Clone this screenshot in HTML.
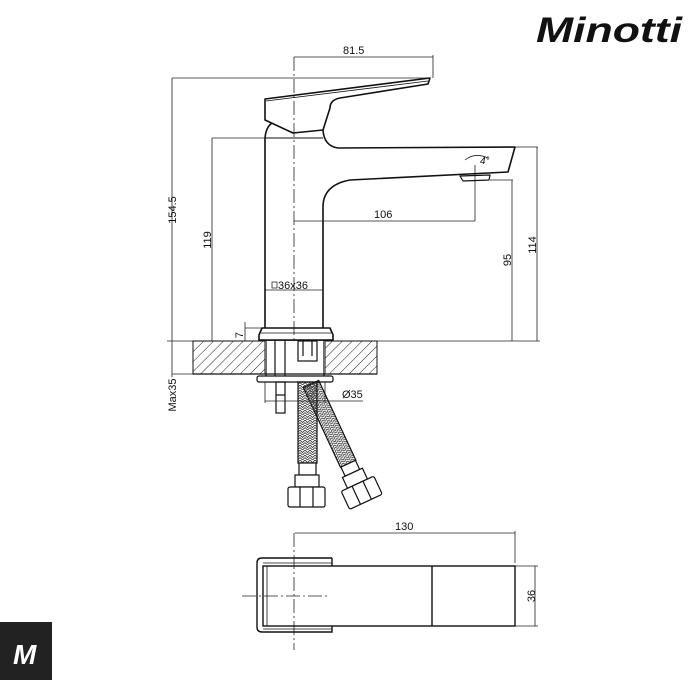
<!DOCTYPE html>
<html><head><meta charset="utf-8"><style>
html,body{margin:0;padding:0;background:#fff;}
svg{display:block;}
text{font-family:"Liberation Sans",sans-serif;fill:#111;}
</style></head><body>
<svg width="700" height="700" viewBox="0 0 700 700" xmlns="http://www.w3.org/2000/svg">
<defs>
<pattern id="h" width="7" height="7" patternUnits="userSpaceOnUse" patternTransform="rotate(45)">
<line x1="0" y1="0" x2="0" y2="7" stroke="#222" stroke-width="1"/>
</pattern>
<pattern id="br" width="5" height="5" patternUnits="userSpaceOnUse">
<path d="M0 0 L2.5 2.5 L5 0 M0 2.5 L2.5 5 L5 2.5" stroke="#333" stroke-width="0.8" fill="none"/>
</pattern>
</defs>

<!-- logo -->
<text x="536" y="42" font-size="35" font-style="italic" font-weight="bold" textLength="146" lengthAdjust="spacingAndGlyphs">Minotti</text>
<rect x="0" y="622" width="52" height="58" fill="#222"/>
<text x="13" y="664" font-size="28" font-style="italic" font-weight="bold" style="fill:#fff">M</text>

<g fill="none" stroke="#222" stroke-width="0.8">
<line x1="294" y1="57" x2="294" y2="365" stroke-dasharray="14,3,2,3"/>
<line x1="294" y1="57" x2="433" y2="57"/>
<line x1="433" y1="55" x2="433" y2="78"/>
<line x1="172" y1="78" x2="430" y2="78"/>
<line x1="172" y1="78" x2="172" y2="341"/>
<line x1="212" y1="138" x2="265" y2="138"/>
<line x1="212" y1="138" x2="212" y2="341"/>
<line x1="294" y1="221" x2="475" y2="221"/>
<line x1="475" y1="165" x2="475" y2="221"/>
<line x1="490" y1="180" x2="513" y2="180"/>
<line x1="512" y1="180" x2="512" y2="341"/>
<line x1="515" y1="147" x2="538" y2="147"/>
<line x1="537" y1="147" x2="537" y2="341"/>
<line x1="265" y1="290" x2="323" y2="290"/>
<line x1="245" y1="328" x2="262" y2="328"/>
<line x1="245" y1="322" x2="245" y2="341"/>
<line x1="167" y1="341" x2="540" y2="341"/>
<line x1="172" y1="341" x2="172" y2="377"/>
<line x1="172" y1="374" x2="193" y2="374"/>
<path d="M465 160 Q475 152 488 158"/>
</g>

<g fill="none" stroke="#111" stroke-width="1.6" stroke-linejoin="round">
<path d="M265 99 L430 78 L428 84 L340 98 Q330 100 330 108 L323 130 L293 133 L265 120 Z"/>
<path d="M266 101 L428 81" stroke-width="0.8"/>
<path d="M265 138 L265 328 M265 138 Q266 127 272 123"/>
<line x1="265" y1="138" x2="323" y2="138" stroke-width="1"/>
<path d="M323 130 Q324 146 338 148 L515 147 L508 172 L350 180 Q323 185 323 207 L323 328"/>
<path d="M460 176 L490 175 L489 180 L463 181 Z" stroke-width="1.2"/>
<path d="M262 328 L330 328 L333 335 L333 340 L259 340 L259 335 Z"/>
<line x1="261" y1="333" x2="331" y2="333" stroke-width="0.8"/>
</g>

<rect x="193" y="341" width="72" height="33" fill="url(#h)" stroke="#111" stroke-width="1"/>
<rect x="325" y="341" width="52" height="33" fill="url(#h)" stroke="#111" stroke-width="1"/>
<rect x="265" y="341" width="60" height="33" fill="#fff"/>
<g fill="none" stroke="#111" stroke-width="1.2">
<line x1="193" y1="374" x2="377" y2="374"/>
<line x1="266" y1="341" x2="266" y2="376"/>
<line x1="324" y1="341" x2="324" y2="376"/>
<line x1="275" y1="341" x2="275" y2="376"/>
<line x1="285" y1="341" x2="285" y2="376"/>
<rect x="298" y="341" width="19" height="20"/>
<line x1="303" y1="341" x2="303" y2="356"/>
<line x1="312" y1="341" x2="312" y2="356"/>
<rect x="257" y="376" width="76" height="6" rx="2"/>
<rect x="276" y="382" width="9" height="31"/>
<line x1="276" y1="395" x2="285" y2="395"/>
</g>
<g fill="none" stroke="#222" stroke-width="0.8">
<line x1="265" y1="382" x2="265" y2="403"/>
<line x1="325" y1="382" x2="325" y2="403"/>
<line x1="265" y1="401" x2="363" y2="401"/>
</g>
<g stroke="#111" stroke-width="1.2">
<g transform="translate(311 384) rotate(-25)">
<rect x="-8.5" y="0" width="17" height="88" fill="url(#br)"/>
<rect x="-8" y="88" width="16" height="10" fill="#fff"/>
<rect x="-11" y="98" width="22" height="12" fill="#fff"/>
<rect x="-18" y="110" width="36" height="20" rx="2" fill="#fff"/>
<line x1="-6" y1="110" x2="-6" y2="130"/><line x1="6" y1="110" x2="6" y2="130"/>
</g>
<rect x="298" y="382" width="19" height="81" fill="url(#br)"/>
<rect x="299" y="463" width="17" height="12" fill="#fff"/>
<rect x="295" y="475" width="24" height="12" fill="#fff"/>
<rect x="288" y="487" width="37" height="20" rx="2" fill="#fff"/>
<line x1="300" y1="487" x2="300" y2="507"/><line x1="313" y1="487" x2="313" y2="507"/>
</g>

<g fill="none" stroke="#222" stroke-width="0.8">
<line x1="295" y1="533" x2="515" y2="533"/>
<line x1="515" y1="531" x2="515" y2="563"/>
<line x1="515" y1="566" x2="538" y2="566"/>
<line x1="515" y1="626" x2="538" y2="626"/>
<line x1="535" y1="566" x2="535" y2="626"/>
<line x1="294" y1="533" x2="294" y2="650" stroke-dasharray="14,3,2,3"/>
<line x1="242" y1="596" x2="330" y2="596" stroke-dasharray="14,3,2,3"/>
</g>
<g fill="none" stroke="#111" stroke-width="1.4">
<path d="M332 558 L262 558 Q257 558 257 563 L257 627 Q257 632 262 632 L332 632 L332 626"/>
<line x1="332" y1="558" x2="332" y2="566"/>
<rect x="263" y="566" width="252" height="60"/>
<line x1="263" y1="563" x2="332" y2="563" stroke-width="0.8"/>
<line x1="263" y1="629" x2="332" y2="629" stroke-width="0.8"/>
<line x1="432" y1="566" x2="432" y2="626"/>
<line x1="267" y1="566" x2="267" y2="626" stroke-width="0.8"/>
</g>

<g font-size="11">
<text x="343" y="54">81.5</text>
<text x="374" y="218">106</text>
<text x="278" y="289">36x36</text>
<rect x="272" y="282" width="5" height="6" fill="none" stroke="#111" stroke-width="0.7"/>
<text x="342" y="398">Ø35</text>
<text x="395" y="530">130</text>
<text x="480" y="164" font-size="10" font-style="italic">4°</text>
<text transform="translate(176 210) rotate(-90)" text-anchor="middle">154.5</text>
<text transform="translate(211 240) rotate(-90)" text-anchor="middle">119</text>
<text transform="translate(511 260) rotate(-90)" text-anchor="middle">95</text>
<text transform="translate(536 245) rotate(-90)" text-anchor="middle">114</text>
<text transform="translate(176 395) rotate(-90)" text-anchor="middle">Max35</text>
<text transform="translate(535 596) rotate(-90)" text-anchor="middle">36</text>
<text transform="translate(243 335) rotate(-90)" text-anchor="middle">7</text>
</g>
</svg>
</body></html>
